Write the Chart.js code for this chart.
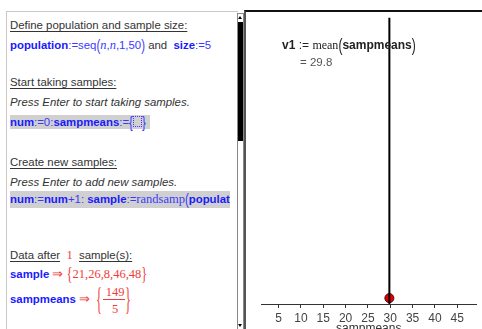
<!DOCTYPE html>
<html>
<head>
<meta charset="utf-8">
<script src="https://cdn.jsdelivr.net/npm/chart.js@4.4.1/dist/chart.umd.min.js"></script>
<style>
  html, body { margin: 0; padding: 0; background: #fff; }
  body { width: 482px; height: 329px; position: relative; overflow: hidden;
         font-family: "Liberation Sans", Arial, sans-serif; font-size: 11.4px; color: #333; }
  .ln { position: absolute; left: 3px; white-space: nowrap; line-height: 14px; }
  .u { text-decoration: underline; text-underline-offset: 2px; }
  .i { font-style: italic; }
  .b { color: #1a1aff; font-weight: bold; }
  .bl { color: #3a3aff; }
  .m { font-family: "Liberation Serif", serif; font-size: 12.5px; }
  .r { color: #f03c3c; font-family: "Liberation Serif", serif; font-size: 12.5px; }
  .hl { background: #d0d0d0; }
  .big { display: inline-block; transform: scaleY(1.5); }
  #notes { position: absolute; left: 6px; top: 11px; width: 231px; height: 318px;
           border-left: 1px solid #c8c8c8; border-top: 1px solid #c8c8c8; overflow: hidden; }
  #scroll { position: absolute; left: 237px; top: 13px; width: 5px; height: 320px;
            border: 1px solid #888; background: #fff; }
  #thumb { position: absolute; left: 0; top: 8px; width: 5px; height: 119px; background: #000; }
  .up, .dn { position: absolute; left: 0; width: 0; height: 0;
             border-left: 2.5px solid transparent; border-right: 2.5px solid transparent; }
  .up { top: 2px; border-bottom: 3px solid #000; }
  .dn { top: 310px; border-top: 3px solid #000; }
  #panel { position: absolute; left: 244px; top: 10px; width: 237px; height: 319px;
           border-left: 2px solid #555; border-top: 2px solid #111; }
  #wrap { position: absolute; left: 246px; top: 12px; }
</style>
</head>
<body>
<div id="notes">
  <div class="ln u" style="top:6px">Define population and sample size:</div>
  <div class="ln" style="top:26px"><span class="b">population</span><span class="bl">:=seq<span class="big">(</span><i class="m">n</i>,<i class="m">n</i>,1,50<span class="big">)</span></span> and &nbsp;<span class="b">size</span><span class="bl">:=5</span></div>
  <div class="ln u" style="top:63px">Start taking samples:</div>
  <div class="ln i" style="top:83px">Press Enter to start taking samples.</div>
  <div class="ln hl" style="top:103px;padding-right:4px"><span class="b">num</span><span class="bl">:=0:</span><span class="b">sampmeans</span><span class="bl">:=<span class="big">{</span><span style="display:inline-block;width:7px;height:9px;border:1px dotted #3a3aff;vertical-align:-1px"></span><span class="big">}</span></span></div>
  <div class="ln u" style="top:143px">Create new samples:</div>
  <div class="ln i" style="top:163px">Press Enter to add new samples.</div>
  <div class="ln hl" style="top:179px;width:220px;height:17px;line-height:17px;overflow:hidden"><span class="b">num</span><span class="bl">:=</span><span class="b">num</span><span class="bl">+1: </span><span class="b">sample</span><span class="bl">:=<span class="m">randsamp</span><span class="big">(</span></span><span class="b">population</span></div>
  <div class="ln" style="top:236px"><span class="u">Data after</span>&nbsp; <span class="r">1</span>&nbsp; <span class="u">sample(s):</span></div>
  <div class="ln" style="top:255px"><span class="b">sample</span> <span style="color:#f03c3c;font-size:13px">&rArr;</span> <span class="r"><span class="big">{</span><span id="sampleText"></span><span class="big">}</span></span></div>
  <div class="ln" style="top:280px"><span class="b">sampmeans</span> <span style="color:#f03c3c;font-size:13px">&rArr;</span></div>
  <div class="r" style="position:absolute;left:89px;line-height:14px;transform:scaleY(2.6);transform-origin:0 50%;top:281px">{</div>
  <div class="r" id="num" style="position:absolute;left:97px;top:273px;width:22px;text-align:center;line-height:14px"></div>
  <div style="position:absolute;left:96px;top:287px;width:22px;height:1px;background:#f03c3c"></div>
  <div class="r" id="den" style="position:absolute;left:97px;top:290px;width:22px;text-align:center;line-height:14px"></div>
  <div class="r" style="position:absolute;left:118px;top:281px;line-height:14px;transform:scaleY(2.6);transform-origin:0 50%">}</div>
</div>
<div id="scroll"><div class="up"></div><div id="thumb"></div><div class="dn"></div></div>
<div id="panel"></div>
<div id="wrap"><canvas id="c" width="236" height="324"></canvas></div>
<div style="position:absolute;left:282px;top:38px;font-size:12px;color:#222;white-space:nowrap"><b>v1</b> := <span class="m" style="color:#222;font-size:12px">mean</span><span class="big">(</span><b>sampmeans</b><span class="big">)</span></div>
<div id="v1" style="position:absolute;left:300px;top:56px;font-size:11.5px;color:#555;white-space:nowrap"></div>
<script>
const sample = [21, 26, 8, 46, 48];
const sampmeans = [29.8];
const dotStack = [1];
const xTicks = [5, 10, 15, 20, 25, 30, 35, 40, 45];
const meanLabel = 'sampmeans';

const v1 = sampmeans.reduce((a, b) => a + b, 0) / sampmeans.length;

document.getElementById('sampleText').textContent = sample.join(',');
document.getElementById('num').textContent = sample.reduce((a, b) => a + b, 0);
document.getElementById('den').textContent = sample.length;
document.getElementById('v1').textContent = '= ' + v1;

const yMax = 48.7;

new Chart(document.getElementById('c'), {
  type: 'scatter',
  data: {
    datasets: [
      {
        type: 'line',
        data: [{ x: v1, y: 0 }, { x: v1, y: yMax }],
        borderColor: '#000',
        borderWidth: 2,
        pointRadius: 0
      },
      {
        data: sampmeans.map((v, i) => ({ x: v, y: dotStack[i] })),
        backgroundColor: '#e00000',
        borderColor: '#500',
        borderWidth: 1,
        pointRadius: 4.5
      }
    ]
  },
  options: {
    responsive: false,
    animation: false,
    layout: { padding: { left: 15, right: 0, top: 0, bottom: 0 } },
    plugins: { legend: { display: false }, tooltip: { enabled: false } },
    scales: {
      x: {
        type: 'linear',
        min: 1.07,
        max: 49.3,
        afterBuildTicks: (scale) => { scale.ticks = xTicks.map(v => ({ value: v })); },
        afterFit: (scale) => { scale.height = 32; },
        grid: { drawOnChartArea: false, drawTicks: true, tickLength: 4, color: '#333' },
        border: { display: true, color: '#333', width: 1 },
        ticks: { color: '#444', padding: 3, font: { family: 'Liberation Sans', size: 12 }, maxRotation: 0, autoSkip: false },
        title: { display: true, text: meanLabel, color: '#333', padding: { top: 0, bottom: 0 },
                 font: { family: 'Liberation Sans', size: 12 } }
      },
      y: { display: false, min: 0, max: yMax }
    }
  }
});
</script>
</body>
</html>
